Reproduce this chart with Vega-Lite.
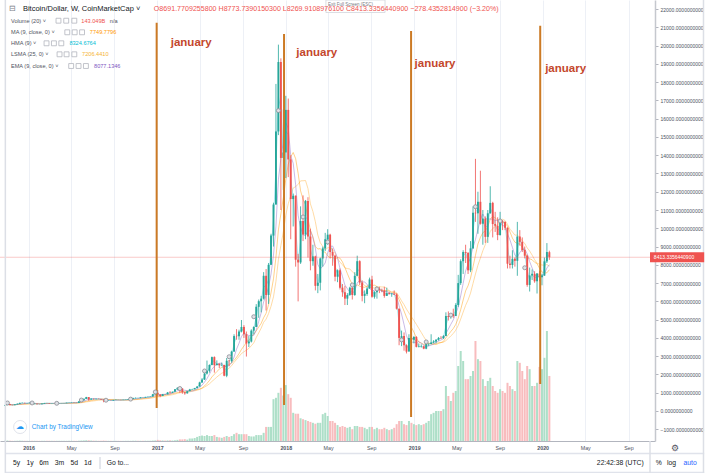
{
"$schema": "https://vega.github.io/schema/vega-lite/v6.json",
"width": 655, "height": 441,
"autosize": {"type": "none"},
"padding": {"left": 0, "top": 0, "right": 55, "bottom": 32},
"background": "#ffffff",
"config": {"font": "Liberation Sans", "view": {"stroke": null},
 "axisY": {"labelOverlap": false, "labelFlush": false, "grid": true, "gridColor": "#edf0f6", "gridWidth": 1,
  "domainColor": "#c5c8ce", "domainWidth": 1.5, "tickColor": "#b2b5be", "tickSize": 3,
  "labelFontSize": 5, "labelColor": "#4c525e", "labelPadding": 2, "title": null},
 "axisX": {"labelOverlap": false, "labelFlush": false, "grid": true, "gridColor": "#edf0f6", "gridWidth": 1,
  "domainColor": "#b2b5be", "domainWidth": 1, "ticks": false, "tickSize": 0,
  "labelFontSize": 5.3, "labelColor": "#4c525e", "labelPadding": 4.5, "title": null}
},
"datasets": {"w": [
{"d":"2015-10-26","o":285,"h":335,"l":283,"c":325,"v":0.6},
{"d":"2015-11-02","o":325,"h":502,"l":320,"c":382,"v":1.2},
{"d":"2015-11-09","o":382,"h":390,"l":305,"c":334,"v":0.7},
{"d":"2015-11-16","o":334,"h":338,"l":315,"c":323,"v":0.4},
{"d":"2015-11-23","o":323,"h":368,"l":315,"c":360,"v":0.4},
{"d":"2015-11-30","o":360,"h":418,"l":355,"c":390,"v":0.6},
{"d":"2015-12-07","o":390,"h":465,"l":385,"c":435,"v":0.8},
{"d":"2015-12-14","o":435,"h":465,"l":430,"c":442,"v":0.6},
{"d":"2015-12-21","o":442,"h":455,"l":415,"c":422,"v":0.5},
{"d":"2015-12-28","o":422,"h":435,"l":418,"c":430,"v":0.4},
{"d":"2016-01-04","o":430,"h":460,"l":425,"c":448,"v":0.4},
{"d":"2016-01-11","o":448,"h":452,"l":365,"c":387,"v":0.6},
{"d":"2016-01-18","o":387,"h":410,"l":370,"c":392,"v":0.5},
{"d":"2016-01-25","o":392,"h":395,"l":366,"c":376,"v":0.4},
{"d":"2016-02-01","o":376,"h":380,"l":365,"c":373,"v":0.4},
{"d":"2016-02-08","o":373,"h":407,"l":370,"c":405,"v":0.4},
{"d":"2016-02-15","o":405,"h":442,"l":400,"c":438,"v":0.5},
{"d":"2016-02-22","o":438,"h":442,"l":420,"c":434,"v":0.5},
{"d":"2016-02-29","o":434,"h":438,"l":405,"c":410,"v":0.5},
{"d":"2016-03-07","o":410,"h":420,"l":405,"c":414,"v":0.4},
{"d":"2016-03-14","o":414,"h":419,"l":405,"c":410,"v":0.4},
{"d":"2016-03-21","o":410,"h":420,"l":409,"c":418,"v":0.4},
{"d":"2016-03-28","o":418,"h":420,"l":410,"c":420,"v":0.4},
{"d":"2016-04-04","o":420,"h":425,"l":418,"c":422,"v":0.4},
{"d":"2016-04-11","o":422,"h":431,"l":420,"c":428,"v":0.4},
{"d":"2016-04-18","o":428,"h":453,"l":427,"c":450,"v":0.4},
{"d":"2016-04-25","o":450,"h":465,"l":445,"c":455,"v":0.5},
{"d":"2016-05-02","o":455,"h":465,"l":440,"c":460,"v":0.5},
{"d":"2016-05-09","o":460,"h":462,"l":445,"c":455,"v":0.4},
{"d":"2016-05-16","o":455,"h":457,"l":437,"c":444,"v":0.4},
{"d":"2016-05-23","o":444,"h":530,"l":440,"c":528,"v":0.6},
{"d":"2016-05-30","o":528,"h":590,"l":520,"c":585,"v":1.0},
{"d":"2016-06-06","o":585,"h":680,"l":570,"c":665,"v":1.2},
{"d":"2016-06-13","o":665,"h":775,"l":660,"c":762,"v":1.6},
{"d":"2016-06-20","o":762,"h":765,"l":555,"c":625,"v":1.5},
{"d":"2016-06-27","o":625,"h":705,"l":620,"c":670,"v":1.0},
{"d":"2016-07-04","o":670,"h":680,"l":615,"c":650,"v":0.8},
{"d":"2016-07-11","o":650,"h":680,"l":640,"c":665,"v":0.6},
{"d":"2016-07-18","o":665,"h":680,"l":650,"c":655,"v":0.5},
{"d":"2016-07-25","o":655,"h":660,"l":620,"c":625,"v":0.5},
{"d":"2016-08-01","o":625,"h":630,"l":480,"c":590,"v":0.9},
{"d":"2016-08-08","o":590,"h":600,"l":565,"c":570,"v":0.5},
{"d":"2016-08-15","o":570,"h":590,"l":565,"c":580,"v":0.4},
{"d":"2016-08-22","o":580,"h":585,"l":565,"c":572,"v":0.4},
{"d":"2016-08-29","o":572,"h":610,"l":570,"c":605,"v":0.4},
{"d":"2016-09-05","o":605,"h":630,"l":600,"c":608,"v":0.4},
{"d":"2016-09-12","o":608,"h":612,"l":600,"c":606,"v":0.4},
{"d":"2016-09-19","o":606,"h":610,"l":595,"c":600,"v":0.3},
{"d":"2016-09-26","o":600,"h":615,"l":598,"c":610,"v":0.3},
{"d":"2016-10-03","o":610,"h":620,"l":605,"c":618,"v":0.4},
{"d":"2016-10-10","o":618,"h":645,"l":615,"c":640,"v":0.4},
{"d":"2016-10-17","o":640,"h":660,"l":630,"c":655,"v":0.4},
{"d":"2016-10-24","o":655,"h":730,"l":650,"c":700,"v":0.6},
{"d":"2016-10-31","o":700,"h":740,"l":690,"c":712,"v":0.7},
{"d":"2016-11-07","o":712,"h":720,"l":700,"c":705,"v":0.5},
{"d":"2016-11-14","o":705,"h":750,"l":700,"c":740,"v":0.5},
{"d":"2016-11-21","o":740,"h":745,"l":730,"c":735,"v":0.5},
{"d":"2016-11-28","o":735,"h":780,"l":730,"c":765,"v":0.6},
{"d":"2016-12-05","o":765,"h":780,"l":755,"c":775,"v":0.5},
{"d":"2016-12-12","o":775,"h":792,"l":770,"c":790,"v":0.6},
{"d":"2016-12-19","o":790,"h":935,"l":790,"c":920,"v":1.0},
{"d":"2016-12-26","o":920,"h":1000,"l":890,"c":998,"v":1.3},
{"d":"2017-01-02","o":998,"h":1150,"l":800,"c":905,"v":2.5},
{"d":"2017-01-09","o":905,"h":910,"l":755,"c":820,"v":1.5},
{"d":"2017-01-16","o":820,"h":930,"l":815,"c":920,"v":1.2},
{"d":"2017-01-23","o":920,"h":925,"l":880,"c":915,"v":1.0},
{"d":"2017-01-30","o":915,"h":1040,"l":910,"c":1010,"v":1.3},
{"d":"2017-02-06","o":1010,"h":1090,"l":950,"c":1000,"v":1.5},
{"d":"2017-02-13","o":1000,"h":1060,"l":990,"c":1050,"v":1.1},
{"d":"2017-02-20","o":1050,"h":1200,"l":1050,"c":1190,"v":1.5},
{"d":"2017-02-27","o":1190,"h":1290,"l":1150,"c":1270,"v":2.5},
{"d":"2017-03-06","o":1270,"h":1330,"l":980,"c":1230,"v":3.5},
{"d":"2017-03-13","o":1230,"h":1250,"l":940,"c":1020,"v":3.5},
{"d":"2017-03-20","o":1020,"h":1050,"l":890,"c":965,"v":4.0},
{"d":"2017-03-27","o":965,"h":1100,"l":950,"c":1085,"v":3.0},
{"d":"2017-04-03","o":1085,"h":1210,"l":1085,"c":1180,"v":5.5},
{"d":"2017-04-10","o":1180,"h":1210,"l":1170,"c":1190,"v":5.5},
{"d":"2017-04-17","o":1190,"h":1265,"l":1190,"c":1250,"v":6.5},
{"d":"2017-04-24","o":1250,"h":1350,"l":1250,"c":1340,"v":9},
{"d":"2017-05-01","o":1340,"h":1600,"l":1340,"c":1560,"v":11},
{"d":"2017-05-08","o":1560,"h":1800,"l":1550,"c":1720,"v":12},
{"d":"2017-05-15","o":1720,"h":2100,"l":1700,"c":2050,"v":11},
{"d":"2017-05-22","o":2050,"h":2760,"l":2000,"c":2200,"v":13},
{"d":"2017-05-29","o":2200,"h":2550,"l":2100,"c":2520,"v":11},
{"d":"2017-06-05","o":2520,"h":2980,"l":2500,"c":2950,"v":11},
{"d":"2017-06-12","o":2950,"h":2990,"l":2100,"c":2510,"v":13},
{"d":"2017-06-19","o":2510,"h":2770,"l":2500,"c":2590,"v":9},
{"d":"2017-06-26","o":2590,"h":2600,"l":2350,"c":2500,"v":8},
{"d":"2017-07-03","o":2500,"h":2650,"l":2480,"c":2520,"v":7},
{"d":"2017-07-10","o":2520,"h":2530,"l":1900,"c":1930,"v":9},
{"d":"2017-07-17","o":1930,"h":2900,"l":1850,"c":2750,"v":11},
{"d":"2017-07-24","o":2750,"h":2800,"l":2450,"c":2730,"v":9},
{"d":"2017-07-31","o":2730,"h":3300,"l":2650,"c":3250,"v":11},
{"d":"2017-08-07","o":3250,"h":4200,"l":3250,"c":4100,"v":15},
{"d":"2017-08-14","o":4100,"h":4480,"l":3900,"c":4090,"v":18},
{"d":"2017-08-21","o":4090,"h":4450,"l":3900,"c":4350,"v":15},
{"d":"2017-08-28","o":4350,"h":4980,"l":4300,"c":4600,"v":15},
{"d":"2017-09-04","o":4600,"h":4700,"l":4000,"c":4200,"v":15},
{"d":"2017-09-11","o":4200,"h":4350,"l":2980,"c":3700,"v":15},
{"d":"2017-09-18","o":3700,"h":4100,"l":3500,"c":3800,"v":11},
{"d":"2017-09-25","o":3800,"h":4470,"l":3750,"c":4400,"v":10},
{"d":"2017-10-02","o":4400,"h":4630,"l":4200,"c":4600,"v":10},
{"d":"2017-10-09","o":4600,"h":5850,"l":4600,"c":5700,"v":13},
{"d":"2017-10-16","o":5700,"h":6100,"l":5100,"c":6010,"v":13},
{"d":"2017-10-23","o":6010,"h":6300,"l":5400,"c":6150,"v":13},
{"d":"2017-10-30","o":6150,"h":7600,"l":6100,"c":7400,"v":18},
{"d":"2017-11-06","o":7400,"h":7770,"l":5500,"c":6350,"v":31},
{"d":"2017-11-13","o":6350,"h":8100,"l":5860,"c":8000,"v":31},
{"d":"2017-11-20","o":8000,"h":9700,"l":7990,"c":9600,"v":31},
{"d":"2017-11-27","o":9600,"h":11400,"l":9000,"c":11300,"v":92},
{"d":"2017-12-04","o":11300,"h":17900,"l":11300,"c":15300,"v":95},
{"d":"2017-12-11","o":15300,"h":20050,"l":15100,"c":19100,"v":106},
{"d":"2017-12-18","o":19100,"h":19300,"l":11000,"c":13850,"v":117},
{"d":"2017-12-25","o":13850,"h":16500,"l":12100,"c":14150,"v":100},
{"d":"2018-01-01","o":14150,"h":17250,"l":12750,"c":16480,"v":123},
{"d":"2018-01-08","o":16480,"h":17100,"l":12800,"c":13770,"v":103},
{"d":"2018-01-15","o":13770,"h":14000,"l":9400,"c":11600,"v":95},
{"d":"2018-01-22","o":11600,"h":11900,"l":10100,"c":11780,"v":62},
{"d":"2018-01-29","o":11780,"h":11800,"l":7900,"c":8280,"v":60},
{"d":"2018-02-05","o":8280,"h":8600,"l":6000,"c":8130,"v":60},
{"d":"2018-02-12","o":8130,"h":11200,"l":8050,"c":10400,"v":50},
{"d":"2018-02-19","o":10400,"h":11800,"l":9300,"c":9660,"v":48},
{"d":"2018-02-26","o":9660,"h":11550,"l":9400,"c":11500,"v":46},
{"d":"2018-03-05","o":11500,"h":11700,"l":8400,"c":9550,"v":44},
{"d":"2018-03-12","o":9550,"h":9980,"l":7700,"c":8200,"v":42},
{"d":"2018-03-19","o":8200,"h":9100,"l":7950,"c":8460,"v":40},
{"d":"2018-03-26","o":8460,"h":8500,"l":6600,"c":6850,"v":38},
{"d":"2018-04-02","o":6850,"h":7500,"l":6450,"c":7020,"v":40},
{"d":"2018-04-09","o":7020,"h":8400,"l":6600,"c":8350,"v":40},
{"d":"2018-04-16","o":8350,"h":9000,"l":7900,"c":8900,"v":59},
{"d":"2018-04-23","o":8900,"h":9750,"l":8750,"c":9400,"v":62},
{"d":"2018-04-30","o":9400,"h":9950,"l":9100,"c":9650,"v":55},
{"d":"2018-05-07","o":9650,"h":9700,"l":8350,"c":8700,"v":44},
{"d":"2018-05-14","o":8700,"h":8900,"l":7950,"c":8500,"v":44},
{"d":"2018-05-21","o":8500,"h":8550,"l":7100,"c":7350,"v":40},
{"d":"2018-05-28","o":7350,"h":7750,"l":7050,"c":7700,"v":35},
{"d":"2018-06-04","o":7700,"h":7800,"l":6650,"c":6750,"v":31},
{"d":"2018-06-11","o":6750,"h":6950,"l":6250,"c":6500,"v":33},
{"d":"2018-06-18","o":6500,"h":6850,"l":5800,"c":6150,"v":31},
{"d":"2018-06-25","o":6150,"h":6450,"l":5800,"c":6350,"v":29},
{"d":"2018-07-02","o":6350,"h":6800,"l":6300,"c":6750,"v":31},
{"d":"2018-07-09","o":6750,"h":6780,"l":6100,"c":6350,"v":26},
{"d":"2018-07-16","o":6350,"h":7600,"l":6300,"c":7400,"v":33},
{"d":"2018-07-23","o":7400,"h":8500,"l":7400,"c":8200,"v":33},
{"d":"2018-07-30","o":8200,"h":8250,"l":6900,"c":7030,"v":31},
{"d":"2018-08-06","o":7030,"h":7150,"l":6000,"c":6300,"v":31},
{"d":"2018-08-13","o":6300,"h":6600,"l":5900,"c":6400,"v":29},
{"d":"2018-08-20","o":6400,"h":6800,"l":6300,"c":6700,"v":26},
{"d":"2018-08-27","o":6700,"h":7300,"l":6700,"c":7200,"v":31},
{"d":"2018-09-03","o":7200,"h":7400,"l":6200,"c":6250,"v":31},
{"d":"2018-09-10","o":6250,"h":6560,"l":6150,"c":6500,"v":26},
{"d":"2018-09-17","o":6500,"h":6800,"l":6150,"c":6700,"v":29},
{"d":"2018-09-24","o":6700,"h":6800,"l":6450,"c":6630,"v":26},
{"d":"2018-10-01","o":6630,"h":6700,"l":6500,"c":6600,"v":26},
{"d":"2018-10-08","o":6600,"h":6800,"l":6200,"c":6300,"v":29},
{"d":"2018-10-15","o":6300,"h":6750,"l":6300,"c":6450,"v":26},
{"d":"2018-10-22","o":6450,"h":6500,"l":6380,"c":6400,"v":24},
{"d":"2018-10-29","o":6400,"h":6450,"l":6250,"c":6420,"v":26},
{"d":"2018-11-05","o":6420,"h":6600,"l":6350,"c":6380,"v":29},
{"d":"2018-11-12","o":6380,"h":6450,"l":5550,"c":5600,"v":37},
{"d":"2018-11-19","o":5600,"h":5600,"l":3600,"c":4000,"v":44},
{"d":"2018-11-26","o":4000,"h":4400,"l":3550,"c":4100,"v":44},
{"d":"2018-12-03","o":4100,"h":4300,"l":3300,"c":3600,"v":37},
{"d":"2018-12-10","o":3600,"h":3650,"l":3150,"c":3250,"v":35},
{"d":"2018-12-17","o":3250,"h":4200,"l":3250,"c":4000,"v":44},
{"d":"2018-12-24","o":4000,"h":4200,"l":3600,"c":3900,"v":40},
{"d":"2018-12-31","o":3900,"h":4100,"l":3700,"c":4050,"v":37},
{"d":"2019-01-07","o":4050,"h":4100,"l":3480,"c":3510,"v":35},
{"d":"2019-01-14","o":3510,"h":3700,"l":3480,"c":3530,"v":37},
{"d":"2019-01-21","o":3530,"h":3650,"l":3470,"c":3540,"v":35},
{"d":"2019-01-28","o":3540,"h":3580,"l":3380,"c":3410,"v":37},
{"d":"2019-02-04","o":3410,"h":3700,"l":3380,"c":3660,"v":40},
{"d":"2019-02-11","o":3660,"h":3700,"l":3550,"c":3670,"v":44},
{"d":"2019-02-18","o":3670,"h":4200,"l":3650,"c":3750,"v":59},
{"d":"2019-02-25","o":3750,"h":3880,"l":3700,"c":3800,"v":62},
{"d":"2019-03-04","o":3800,"h":3930,"l":3700,"c":3900,"v":66},
{"d":"2019-03-11","o":3900,"h":4050,"l":3850,"c":4000,"v":66},
{"d":"2019-03-18","o":4000,"h":4100,"l":3950,"c":3980,"v":66},
{"d":"2019-03-25","o":3980,"h":4150,"l":3950,"c":4100,"v":70},
{"d":"2019-04-01","o":4100,"h":5400,"l":4100,"c":5200,"v":121},
{"d":"2019-04-08","o":5200,"h":5450,"l":4950,"c":5150,"v":99},
{"d":"2019-04-15","o":5150,"h":5350,"l":5050,"c":5300,"v":88},
{"d":"2019-04-22","o":5300,"h":5600,"l":5100,"c":5200,"v":106},
{"d":"2019-04-29","o":5200,"h":5900,"l":5200,"c":5800,"v":110},
{"d":"2019-05-06","o":5800,"h":7450,"l":5700,"c":7000,"v":165},
{"d":"2019-05-13","o":7000,"h":8300,"l":6900,"c":8200,"v":198},
{"d":"2019-05-20","o":8200,"h":8800,"l":7500,"c":8700,"v":176},
{"d":"2019-05-27","o":8700,"h":9100,"l":8100,"c":8650,"v":136},
{"d":"2019-06-03","o":8650,"h":8700,"l":7500,"c":7700,"v":136},
{"d":"2019-06-10","o":7700,"h":9300,"l":7600,"c":8900,"v":143},
{"d":"2019-06-17","o":8900,"h":11200,"l":8900,"c":10850,"v":154},
{"d":"2019-06-24","o":10850,"h":13800,"l":10350,"c":10820,"v":220},
{"d":"2019-07-01","o":10820,"h":12000,"l":9700,"c":11450,"v":180},
{"d":"2019-07-08","o":11450,"h":13150,"l":10200,"c":10250,"v":176},
{"d":"2019-07-15","o":10250,"h":11000,"l":9100,"c":10530,"v":136},
{"d":"2019-07-22","o":10530,"h":10650,"l":9200,"c":9530,"v":121},
{"d":"2019-07-29","o":9530,"h":11000,"l":9200,"c":10820,"v":132},
{"d":"2019-08-05","o":10820,"h":12300,"l":10800,"c":11390,"v":139},
{"d":"2019-08-12","o":11390,"h":11450,"l":9500,"c":10230,"v":121},
{"d":"2019-08-19","o":10230,"h":10900,"l":9800,"c":10140,"v":110},
{"d":"2019-08-26","o":10140,"h":10600,"l":9350,"c":9630,"v":106},
{"d":"2019-09-02","o":9630,"h":10900,"l":9600,"c":10400,"v":114},
{"d":"2019-09-09","o":10400,"h":10450,"l":9900,"c":10360,"v":110},
{"d":"2019-09-16","o":10360,"h":10360,"l":9900,"c":10030,"v":106},
{"d":"2019-09-23","o":10030,"h":10050,"l":7800,"c":8060,"v":128},
{"d":"2019-09-30","o":8060,"h":8500,"l":7800,"c":7990,"v":121},
{"d":"2019-10-07","o":7990,"h":8800,"l":7800,"c":8330,"v":114},
{"d":"2019-10-14","o":8330,"h":8400,"l":7900,"c":8220,"v":110},
{"d":"2019-10-21","o":8220,"h":10350,"l":7400,"c":9550,"v":176},
{"d":"2019-10-28","o":9550,"h":9900,"l":9050,"c":9260,"v":172},
{"d":"2019-11-04","o":9260,"h":9500,"l":8700,"c":8810,"v":154},
{"d":"2019-11-11","o":8810,"h":9000,"l":8350,"c":8500,"v":136},
{"d":"2019-11-18","o":8500,"h":8550,"l":6800,"c":6900,"v":165},
{"d":"2019-11-25","o":6900,"h":7850,"l":6540,"c":7420,"v":158},
{"d":"2019-12-02","o":7420,"h":7750,"l":7170,"c":7510,"v":121},
{"d":"2019-12-09","o":7510,"h":7650,"l":7020,"c":7100,"v":121},
{"d":"2019-12-16","o":7100,"h":7550,"l":6430,"c":7520,"v":128},
{"d":"2019-12-23","o":7520,"h":7680,"l":7100,"c":7320,"v":163},
{"d":"2019-12-30","o":7320,"h":7500,"l":6880,"c":7410,"v":158},
{"d":"2020-01-06","o":7410,"h":8400,"l":7400,"c":8190,"v":183},
{"d":"2020-01-13","o":8190,"h":9190,"l":8100,"c":8700,"v":242},
{"d":"2020-01-20","o":8691.77,"h":8773.74,"l":8269.91,"c":8413.34,"v":143.049}
]},
"resolve": {"scale": {"y": "independent"}},
"layer": [
{
 "data": {"name": "w"},
 "mark": {"type": "bar", "size": 2},
 "encoding": {
  "x": {"field": "d", "type": "temporal", "title": null,
   "scale": {"domain": [{"year": 2015, "month": 10, "date": 26}, {"year": 2020, "month": 11, "date": 1}]},
   "axis": {
    "values": [{"year":2016,"month":1,"date":1},{"year":2016,"month":5,"date":1},{"year":2016,"month":9,"date":1},{"year":2017,"month":1,"date":1},{"year":2017,"month":5,"date":1},{"year":2017,"month":9,"date":1},{"year":2018,"month":1,"date":1},{"year":2018,"month":5,"date":1},{"year":2018,"month":9,"date":1},{"year":2019,"month":1,"date":1},{"year":2019,"month":5,"date":1},{"year":2019,"month":9,"date":1},{"year":2020,"month":1,"date":1},{"year":2020,"month":5,"date":1},{"year":2020,"month":9,"date":1}],
    "tickCount": 100,
    "labelExpr": "month(datum.value) == 0 ? timeFormat(datum.value, '%Y') : timeFormat(datum.value, '%b')",
    "labelFontWeight": {"condition": {"test": "month(datum.value) == 0", "value": "bold"}, "value": "normal"},
    "labelOverlap": false
   }},
  "y": {"field": "v", "type": "quantitative", "title": null, "scale": {"domain": [0, 970], "nice": false, "zero": false}, "axis": null},
  "color": {"condition": {"test": "datum.c >= datum.o", "value": "#addfc8"}, "value": "#f8bcbe"}
 }
},
{
 "data": {"name": "w"},
 "layer": [
  {
   "transform": [{"window": [{"op": "mean", "field": "c", "as": "m"}], "frame": [-12, 0], "sort": [{"field": "d"}]}],
   "mark": {"type": "line", "color": "#ffcc80", "strokeWidth": 1, "opacity": 0.7},
   "encoding": {"x": {"field": "d", "type": "temporal", "title": null},
    "y": {"field": "m", "type": "quantitative", "title": null,
     "scale": {"domain": [-1642, 22494], "nice": false, "zero": false},
     "axis": {"orient": "right", "labelOverlap": false, "tickCount": 100,
      "values": [-1000,0,1000,2000,3000,4000,5000,6000,7000,8000,9000,10000,11000,12000,13000,14000,15000,16000,17000,18000,19000,20000,21000,22000],
      "labelExpr": "format(datum.value, '.10f')"}}}
  },
  {
   "transform": [{"window": [{"op": "mean", "field": "c", "as": "m"}], "frame": [-8, 0], "sort": [{"field": "d"}]}],
   "mark": {"type": "line", "color": "#ff9800", "strokeWidth": 1, "opacity": 0.45},
   "encoding": {"x": {"field": "d", "type": "temporal", "title": null}, "y": {"field": "m", "type": "quantitative", "title": null}}
  },
  {
   "transform": [{"window": [{"op": "mean", "field": "c", "as": "m"}], "frame": [-4, 0], "sort": [{"field": "d"}]}],
   "mark": {"type": "line", "color": "#9575cd", "strokeWidth": 1, "opacity": 0.5},
   "encoding": {"x": {"field": "d", "type": "temporal", "title": null}, "y": {"field": "m", "type": "quantitative", "title": null}}
  },
  {
   "transform": [{"window": [{"op": "mean", "field": "c", "as": "m"}], "frame": [-1, 0], "sort": [{"field": "d"}]}],
   "mark": {"type": "line", "color": "#4dd0e1", "strokeWidth": 1, "opacity": 0.5},
   "encoding": {"x": {"field": "d", "type": "temporal", "title": null}, "y": {"field": "m", "type": "quantitative", "title": null}}
  },
  {
   "mark": {"type": "rule", "strokeWidth": 0.8},
   "encoding": {
    "x": {"field": "d", "type": "temporal", "title": null},
    "y": {"field": "l", "type": "quantitative", "title": null},
    "y2": {"field": "h"},
    "color": {"condition": {"test": "datum.c >= datum.o", "value": "#26a69a"}, "value": "#ef5350"}
   }
  },
  {
   "mark": {"type": "bar", "size": 1.9},
   "encoding": {
    "x": {"field": "d", "type": "temporal", "title": null},
    "y": {"field": "o", "type": "quantitative", "title": null},
    "y2": {"field": "c"},
    "color": {"condition": {"test": "datum.c >= datum.o", "value": "#26a69a"}, "value": "#ef5350"}
   }
  },
  {
   "data": {"values": [{"p": 8413.34}]},
   "mark": {"type": "rule", "color": "#ef5350", "strokeWidth": 1, "opacity": 0.3},
   "encoding": {"y": {"field": "p", "type": "quantitative", "title": null}}
  },
  {
   "data": {"values": [
    {"d": "2016-12-30", "p": 21252, "p2": 164},
    {"d": "2017-12-27", "p": 20634, "p2": 328},
    {"d": "2018-12-23", "p": 20797, "p2": -328},
    {"d": "2019-12-25", "p": 21087, "p2": 1478}
   ]},
   "mark": {"type": "rule", "color": "#cc7a25", "strokeWidth": 2},
   "encoding": {"x": {"field": "d", "type": "temporal", "title": null}, "y": {"field": "p", "type": "quantitative", "title": null}, "y2": {"field": "p2"}}
  },
  {
   "data": {"values": [
    {"d": "2017-02-08", "p": 20141, "t": "january"},
    {"d": "2018-01-31", "p": 19593, "t": "january"},
    {"d": "2019-01-02", "p": 18991, "t": "january"},
    {"d": "2020-01-08", "p": 18718, "t": "january"}
   ]},
   "mark": {"type": "text", "align": "left", "baseline": "middle", "fontSize": 11.5, "fontWeight": "bold", "color": "#c4472c"},
   "encoding": {"x": {"field": "d", "type": "temporal", "title": null}, "y": {"field": "p", "type": "quantitative", "title": null}, "text": {"field": "t"}}
  },
  {
   "data": {"values": [
    {"d": "2015-11-02", "p": 440}, {"d": "2016-01-11", "p": 440}, {"d": "2016-03-21", "p": 420},
    {"d": "2016-05-30", "p": 600}, {"d": "2016-08-08", "p": 590}, {"d": "2016-10-17", "p": 650},
    {"d": "2016-12-26", "p": 1040}, {"d": "2017-03-06", "p": 1230}, {"d": "2017-05-15", "p": 2190},
    {"d": "2017-07-24", "p": 2970}, {"d": "2017-10-02", "p": 5160}, {"d": "2017-12-11", "p": 16440},
    {"d": "2018-02-19", "p": 10620}, {"d": "2018-04-30", "p": 9250}, {"d": "2018-07-09", "p": 6900},
    {"d": "2018-09-17", "p": 6680}, {"d": "2018-11-26", "p": 3890}, {"d": "2019-02-04", "p": 3780},
    {"d": "2019-04-15", "p": 5250}, {"d": "2019-06-24", "p": 11180}, {"d": "2019-09-02", "p": 10400},
    {"d": "2019-11-11", "p": 7840}
   ]},
   "mark": {"type": "point", "shape": "circle", "filled": true, "size": 16, "fill": "#dfe1e6", "stroke": "#8a8d96", "strokeWidth": 0.8, "opacity": 1},
   "encoding": {"x": {"field": "d", "type": "temporal", "title": null}, "y": {"field": "p", "type": "quantitative", "title": null}}
  },
  {
   "data": {"values": [{"d": "2018-04-25", "d2": "2018-10-10", "p": 21810, "p2": 22494}]},
   "mark": {"type": "rect", "fill": "#ffffff", "stroke": "#d1d4dc", "strokeWidth": 0.8},
   "encoding": {"x": {"field": "d", "type": "temporal", "title": null}, "x2": {"field": "d2"}, "y": {"field": "p", "type": "quantitative", "title": null}, "y2": {"field": "p2"}}
  },
  {
   "data": {"values": [{"d": "2018-05-01", "p": 22200, "t": "Exit Full Screen (ESC)"}]},
   "mark": {"type": "text", "align": "left", "baseline": "middle", "fontSize": 4.5, "color": "#787b86"},
   "encoding": {"x": {"field": "d", "type": "temporal", "title": null}, "y": {"field": "p", "type": "quantitative", "title": null}, "text": {"field": "t"}}
  },
  {
   "data": {"values": [{"d": "2015-11-15", "p": 22000, "t": "⊟"}]},
   "mark": {"type": "text", "align": "center", "baseline": "middle", "fontSize": 8, "color": "#787b86"},
   "encoding": {"x": {"field": "d", "type": "temporal", "title": null}, "y": {"field": "p", "type": "quantitative", "title": null}, "text": {"field": "t"}}
  },
  {
   "data": {"values": [{"d": "2015-12-16", "p": 22000, "t": "Bitcoin/Dollar, W, CoinMarketCap ˅"}]},
   "mark": {"type": "text", "align": "left", "baseline": "middle", "fontSize": 7.5, "color": "#131722"},
   "encoding": {"x": {"field": "d", "type": "temporal", "title": null}, "y": {"field": "p", "type": "quantitative", "title": null}, "text": {"field": "t"}}
  },
  {
   "data": {"values": [{"d": "2016-12-22", "p": 22000, "t": "O8691.7709255800  H8773.7390150300  L8269.9108976100  C8413.3356440900  −278.4352814900 (−3.20%)"}]},
   "mark": {"type": "text", "align": "left", "baseline": "middle", "fontSize": 7.1, "color": "#ef5350"},
   "encoding": {"x": {"field": "d", "type": "temporal", "title": null}, "y": {"field": "p", "type": "quantitative", "title": null}, "text": {"field": "t"}}
  },
  {
   "data": {"values": [
    {"d": "2015-11-12", "p": 21361, "t": "Volume (20) ˅"},
    {"d": "2015-11-12", "p": 20727, "t": "MA (9, close, 0) ˅"},
    {"d": "2015-11-12", "p": 20124, "t": "HMA (9) ˅"},
    {"d": "2015-11-12", "p": 19522, "t": "LSMA (25, 0) ˅"},
    {"d": "2015-11-12", "p": 18882, "t": "EMA (9, close, 0) ˅"}
   ]},
   "mark": {"type": "text", "align": "left", "baseline": "middle", "fontSize": 5.6, "color": "#50535e"},
   "encoding": {"x": {"field": "d", "type": "temporal", "title": null}, "y": {"field": "p", "type": "quantitative", "title": null}, "text": {"field": "t"}}
  },
  {
   "data": {"values": [
    {"d": "2016-03-26", "p": 21361}, {"d": "2016-04-17", "p": 21361}, {"d": "2016-05-10", "p": 21361},
    {"d": "2016-04-20", "p": 20727}, {"d": "2016-05-11", "p": 20727}, {"d": "2016-06-01", "p": 20727},
    {"d": "2016-02-21", "p": 20124}, {"d": "2016-03-13", "p": 20124}, {"d": "2016-04-03", "p": 20124},
    {"d": "2016-03-29", "p": 19522}, {"d": "2016-04-18", "p": 19522}, {"d": "2016-05-10", "p": 19522},
    {"d": "2016-05-01", "p": 18882}, {"d": "2016-05-22", "p": 18882}, {"d": "2016-06-12", "p": 18882}
   ]},
   "mark": {"type": "point", "shape": "square", "filled": true, "size": 24, "fill": "#ffffff", "stroke": "#b2b5be", "strokeWidth": 0.8, "opacity": 1},
   "encoding": {"x": {"field": "d", "type": "temporal", "title": null}, "y": {"field": "p", "type": "quantitative", "title": null}}
  },
  {
   "data": {"values": [
    {"d": "2016-05-30", "p": 21361, "t": "143.049B", "s": "Volume"},
    {"d": "2016-08-19", "p": 21361, "t": "n/a", "s": "na"},
    {"d": "2016-06-23", "p": 20727, "t": "7749.7796", "s": "MA"},
    {"d": "2016-04-26", "p": 20124, "t": "8324.6764", "s": "HMA"},
    {"d": "2016-06-01", "p": 19522, "t": "7206.4410", "s": "LSMA"},
    {"d": "2016-07-05", "p": 18882, "t": "8077.1346", "s": "EMA"}
   ]},
   "mark": {"type": "text", "align": "left", "baseline": "middle", "fontSize": 5.6},
   "encoding": {"x": {"field": "d", "type": "temporal", "title": null}, "y": {"field": "p", "type": "quantitative", "title": null}, "text": {"field": "t"},
    "color": {"field": "s", "type": "nominal", "legend": null, "scale": {"domain": ["Volume", "na", "MA", "HMA", "LSMA", "EMA"], "range": ["#ef5350", "#50535e", "#ff9800", "#00bcd4", "#f5b335", "#7e57c2"]}}}
  },
  {
   "data": {"values": [{"d": "2015-12-08", "p": -876}]},
   "mark": {"type": "point", "shape": "circle", "filled": true, "size": 170, "fill": "#ffffff", "stroke": "#e0e3eb", "strokeWidth": 1, "opacity": 1},
   "encoding": {"x": {"field": "d", "type": "temporal", "title": null}, "y": {"field": "p", "type": "quantitative", "title": null}}
  },
  {
   "data": {"values": [{"d": "2015-12-08", "p": -876, "t": "☁"}]},
   "mark": {"type": "text", "align": "center", "baseline": "middle", "fontSize": 8, "color": "#2196f3"},
   "encoding": {"x": {"field": "d", "type": "temporal", "title": null}, "y": {"field": "p", "type": "quantitative", "title": null}, "text": {"field": "t"}}
  },
  {
   "data": {"values": [{"d": "2016-01-10", "p": -876, "t": "Chart by TradingView"}]},
   "mark": {"type": "text", "align": "left", "baseline": "middle", "fontSize": 6.4, "color": "#2196f3"},
   "encoding": {"x": {"field": "d", "type": "temporal", "title": null}, "y": {"field": "p", "type": "quantitative", "title": null}, "text": {"field": "t"}}
  },
  {
   "data": {"values": [
    {"d": "2015-10-26", "d2": "2021-04-04", "p": -2326},
    {"d": "2015-10-26", "d2": "2021-04-04", "p": -3366}
   ]},
   "mark": {"type": "rule", "color": "#e0e3eb", "strokeWidth": 1.5},
   "encoding": {"x": {"field": "d", "type": "temporal", "title": null}, "x2": {"field": "d2"}, "y": {"field": "p", "type": "quantitative", "title": null}}
  },
  {
   "data": {"values": [
    {"d": "2020-11-01", "p": -1642, "p2": -3393},
    {"d": "2016-07-22", "p": -2518, "p2": -3174},
    {"d": "2021-04-02", "p": 22494, "p2": -3393},
    {"d": "2015-10-27", "p": 22494, "p2": -3393}
   ]},
   "mark": {"type": "rule", "color": "#dcdfe6", "strokeWidth": 1.5},
   "encoding": {"x": {"field": "d", "type": "temporal", "title": null}, "y": {"field": "p", "type": "quantitative", "title": null}, "y2": {"field": "p2"}}
  },
  {
   "data": {"values": [
    {"d": "2015-11-28", "p": -2846, "t": "5y"},
    {"d": "2016-01-05", "p": -2846, "t": "1y"},
    {"d": "2016-02-14", "p": -2846, "t": "6m"},
    {"d": "2016-03-29", "p": -2846, "t": "3m"},
    {"d": "2016-05-10", "p": -2846, "t": "5d"},
    {"d": "2016-06-17", "p": -2846, "t": "1d"},
    {"d": "2020-11-26", "p": -2846, "t": "%"},
    {"d": "2021-01-01", "p": -2846, "t": "log"}
   ]},
   "mark": {"type": "text", "align": "center", "baseline": "middle", "fontSize": 6.8, "color": "#131722"},
   "encoding": {"x": {"field": "d", "type": "temporal", "title": null}, "y": {"field": "p", "type": "quantitative", "title": null}, "text": {"field": "t"}}
  },
  {
   "data": {"values": [
    {"d": "2016-08-10", "p": -2846, "t": "Go to..."},
    {"d": "2020-06-03", "p": -2846, "t": "22:42:38 (UTC)"}
   ]},
   "mark": {"type": "text", "align": "left", "baseline": "middle", "fontSize": 6.8, "color": "#131722"},
   "encoding": {"x": {"field": "d", "type": "temporal", "title": null}, "y": {"field": "p", "type": "quantitative", "title": null}, "text": {"field": "t"}}
  },
  {
   "data": {"values": [{"d": "2021-02-23", "p": -2846, "t": "auto"}]},
   "mark": {"type": "text", "align": "center", "baseline": "middle", "fontSize": 6.8, "color": "#2962ff"},
   "encoding": {"x": {"field": "d", "type": "temporal", "title": null}, "y": {"field": "p", "type": "quantitative", "title": null}, "text": {"field": "t"}}
  },
  {
   "data": {"values": [{"d": "2021-01-10", "p": -2025, "t": "⚙"}]},
   "mark": {"type": "text", "align": "center", "baseline": "middle", "fontSize": 9, "color": "#50535e"},
   "encoding": {"x": {"field": "d", "type": "temporal", "title": null}, "y": {"field": "p", "type": "quantitative", "title": null}, "text": {"field": "t"}}
  },
  {
   "data": {"values": [{"d": "2020-11-01", "d2": "2021-04-04", "p": 8140, "p2": 8687}]},
   "mark": {"type": "rect", "fill": "#ef5350"},
   "encoding": {"x": {"field": "d", "type": "temporal", "title": null}, "x2": {"field": "d2"}, "y": {"field": "p", "type": "quantitative", "title": null}, "y2": {"field": "p2"}}
  },
  {
   "data": {"values": [{"d": "2020-11-12", "p": 8413, "t": "8413.3356440900"}]},
   "mark": {"type": "text", "align": "left", "baseline": "middle", "fontSize": 5, "color": "#ffffff"},
   "encoding": {"x": {"field": "d", "type": "temporal", "title": null}, "y": {"field": "p", "type": "quantitative", "title": null}, "text": {"field": "t"}}
  }
 ]
}
]
}
